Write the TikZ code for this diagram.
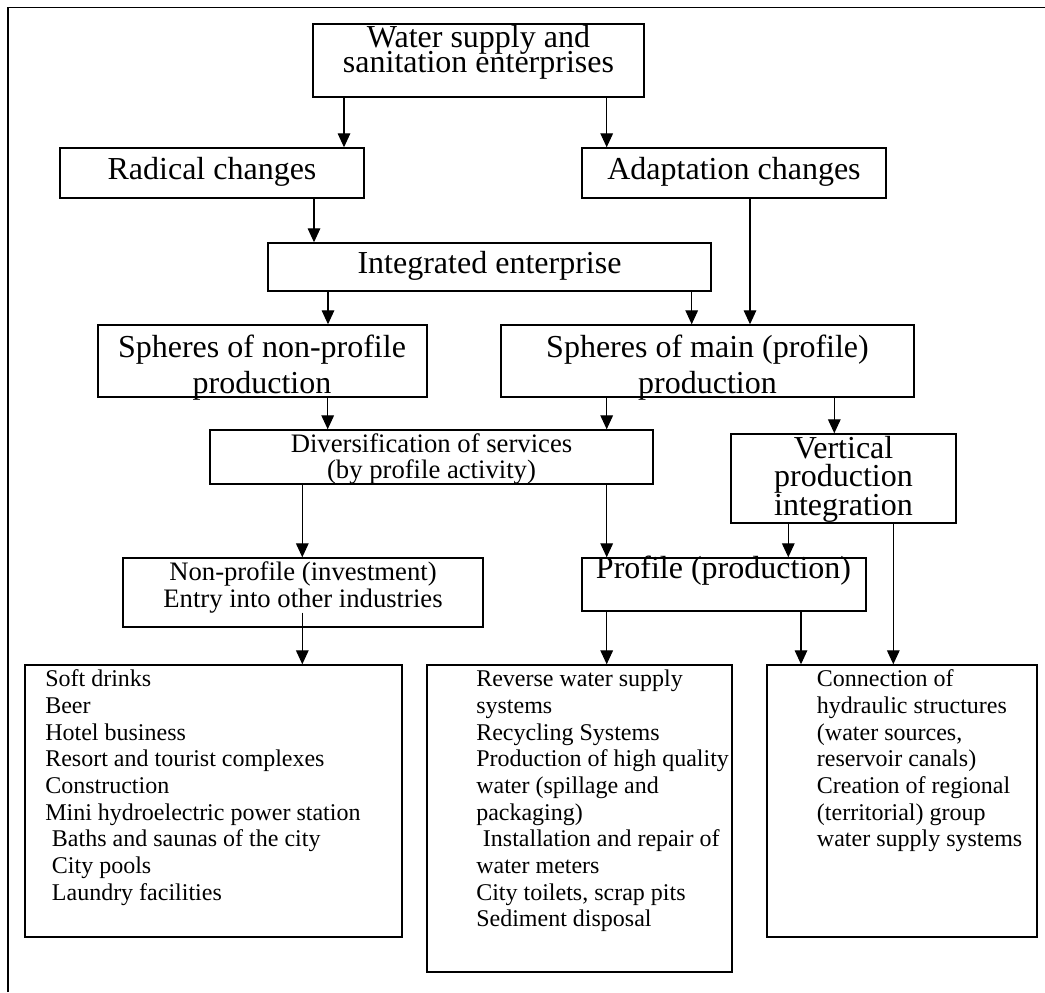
\documentclass[tikz,border=0pt]{standalone}
\usepackage{fontspec}
\setmainfont{Liberation Serif}
\usetikzlibrary{arrows.meta,fit,calc}
% centred / left-aligned line stacks whose baseline is the first line
\newcommand{\cstack}[2]{\vtop{\lineskiplimit=-100pt\lineskip=0pt\baselineskip=#1\halign{\hfil##\hfil\cr#2\crcr}}}
\newcommand{\lstack}[2]{\vtop{\lineskiplimit=-100pt\lineskip=0pt\baselineskip=#1\halign{##\hfil\cr#2\crcr}}}
\begin{document}
\begin{tikzpicture}[x=0.75pt,y=-0.75pt,
  box/.style={draw, line width=1.1pt, inner sep=0pt, rectangle},
  arr/.style={line width=0.8pt, -{Triangle[length=10.5pt,width=9.5pt]}},
  big/.style={anchor=base, inner sep=0pt, font=\fontsize{24}{24}\selectfont},
  mid/.style={anchor=base, inner sep=0pt, font=\fontsize{20}{20}\selectfont},
  item/.style={anchor=base west, inner sep=0pt, font=\fontsize{18}{18}\selectfont}]
\useasboundingbox (0,0) rectangle (1045,992);
% outer frame
\draw[line width=1pt] (8,992) -- (8,7.5) -- (1045,7.5);

% boxes
\node[box, line width=1.5pt, fit={(313,24) (644,97)}] (top) {};
\node[box, fit={(60,148) (364,198)}] (rad) {};
\node[box, fit={(582,148) (886,198)}] (ada) {};
\node[box, fit={(268,243) (711,291)}] (int) {};
\node[box, fit={(98,325) (427,397)}] (snp) {};
\node[box, fit={(501,325) (914,397)}] (smp) {};
\node[box, fit={(210,430) (653,484)}] (div) {};
\node[box, fit={(731,434) (956,523)}] (vert) {};
\node[box, fit={(123,558) (483,627)}] (np) {};
\node[box, fit={(582,558) (866,611)}] (prof) {};
\node[box, fit={(25,665) (402,937)}] (lbox) {};
\node[box, fit={(427,665) (732,972)}] (mbox) {};
\node[box, fit={(767,665) (1037,937)}] (rbox) {};

% heading texts
\node[big] (t1) at (478.5,47) {\cstack{19.1pt}{Water supply and\cr sanitation enterprises}};
\node[big] (t3) at (212,179) {Radical changes};
\node[big] (t4) at (734,179) {Adaptation changes};
\node[big] (t5) at (489.5,273) {Integrated enterprise};
\node[big] (t6) at (262,357) {\cstack{27pt}{Spheres of non-profile\cr production}};
\node[big] (t8) at (707.5,357) {\cstack{27pt}{Spheres of main (profile)\cr production}};
\node[mid] (t10) at (431.5,452) {\cstack{19.5pt}{Diversification of services\cr (by profile activity)}};
\node[big] (t12) at (843.5,458.5) {\cstack{21.25pt}{Vertical\cr production\cr integration}};
\node[mid] (t15) at (303,580) {\cstack{20.25pt}{Non-profile (investment)\cr Entry into other industries}};
\node[big] (t17) at (723.5,578.5) {Profile (production)};

% list texts
\node[item] (ltxt) at (45,686.7) {\lstack{20pt}{Soft drinks\cr Beer\cr Hotel business\cr
  Resort and tourist complexes\cr Construction\cr Mini hydroelectric power station\cr
  \hspace*{5pt}Baths and saunas of the city\cr \hspace*{5pt}City pools\cr
  \hspace*{5pt}Laundry facilities}};
\node[item] (mtxt) at (476,686.7) {\lstack{20pt}{Reverse water supply\cr systems\cr
  Recycling Systems\cr Production of high quality\cr water (spillage and\cr packaging)\cr
  \hspace*{5pt}Installation and repair of\cr water meters\cr City toilets, scrap pits\cr
  Sediment disposal}};
\node[item] (rtxt) at (816.7,686.7) {\lstack{20pt}{Connection of\cr hydraulic structures\cr
  (water sources,\cr reservoir canals)\cr Creation of regional\cr (territorial) group\cr
  water supply systems}};

% connectors
\draw[arr] (top.south -| 344,0) -- (rad.north -| 344,0);
\draw[arr] (top.south -| 606.7,0) -- (ada.north -| 606.7,0);
\draw[arr] (rad.south -| 314,0) -- (int.north -| 314,0);
\draw[arr] (ada.south -| 750,0) -- (smp.north -| 750,0);
\draw[arr] (int.south -| 328,0) -- (snp.north -| 328,0);
\draw[arr] (int.south -| 691.7,0) -- (smp.north -| 691.7,0);
\draw[arr] (snp.south -| 327.7,0) -- (div.north -| 327.7,0);
\draw[arr] (smp.south -| 606.7,0) -- (div.north -| 606.7,0);
\draw[arr] (smp.south -| 834.3,0) -- (vert.north -| 834.3,0);
\draw[arr] (div.south -| 302.3,0) -- (np.north -| 302.3,0);
\draw[arr] (div.south -| 606.7,0) -- (prof.north -| 606.7,0);
\draw[arr] (vert.south -| 788.3,0) -- (prof.north -| 788.3,0);
\draw[arr] ($(np.south -| 302.3,0)+(0,-15)$) -- (lbox.north -| 302.3,0);
\draw[arr] (prof.south -| 606.7,0) -- (mbox.north -| 606.7,0);
\draw[arr] (prof.south -| 801,0) -- (rbox.north -| 801,0);
\draw[arr] (vert.south -| 893.3,0) -- (rbox.north -| 893.3,0);
\end{tikzpicture}
\end{document}
